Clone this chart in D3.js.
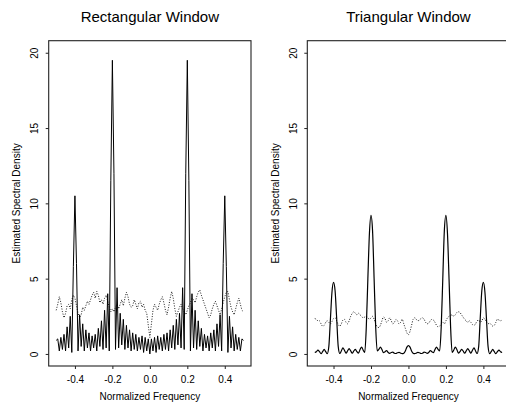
<!DOCTYPE html>
<html><head><meta charset="utf-8">
<script src="https://cdn.jsdelivr.net/npm/d3@7"></script>
<style>
body{margin:0;background:#fff}
svg{display:block}
text{font-family:"Liberation Sans",Arial,Helvetica,sans-serif;fill:#000}
</style>
</head><body>
<svg id="chart" width="506" height="403"></svg>
<script>
// Frequency grid: -0.5 .. 0.5, evenly spaced (one value per grid point)
const freqRange = [-0.5, 0.5];

// Rectangular window: periodogram (solid) and noise spectrum (dotted)
const rectSolid = [
0.9,1.0,0.2,1.1,0.3,1.3,0.2,1.8,0.4,2.5,0.1,5.8,10.5,6.0,0.2,2.6,0.5,2.0,0.2,1.6,
0.4,1.4,0.2,1.2,0.4,1.3,0.2,1.7,0.5,2.2,0.3,2.9,0.4,4.0,0.2,11.5,19.5,12.0,0.3,4.4,
0.4,2.7,0.6,2.3,0.3,1.9,0.4,1.6,0.2,1.4,0.3,1.3,0.2,1.1,0.3,1.2,0.1,1.1,0.2,1.0,
0.0,
1.0,0.2,1.1,0.1,1.2,0.3,1.1,0.2,1.3,0.3,1.4,0.2,1.6,0.4,1.9,0.3,2.3,0.6,2.7,0.4,
4.4,0.3,12.0,19.5,11.5,0.2,4.0,0.4,2.9,0.3,2.2,0.5,1.7,0.2,1.3,0.4,1.2,0.2,1.4,0.4,
1.6,0.2,2.0,0.5,2.6,0.2,6.0,10.5,5.8,0.1,2.5,0.4,1.8,0.2,1.3,0.3,1.1,0.2,1.0,0.9
];
const rectDotted = [
2.9,3.3,3.8,3.4,2.8,2.4,2.7,3.2,3.3,3.0,
3.6,3.9,3.7,3.2,2.7,2.4,2.6,3.1,2.9,3.2,
3.5,3.3,3.6,3.9,4.1,3.7,4.15,3.9,3.4,3.6,
3.3,3.7,3.9,3.5,3.1,2.8,3.0,2.8,3.1,3.3,
3.0,3.3,3.6,3.2,3.7,4.1,3.8,3.3,3.1,3.2,
3.6,3.3,3.0,3.4,3.5,3.1,3.3,2.9,2.7,1.9,
1.1,
2.0,2.9,3.3,3.1,2.9,3.3,3.6,3.8,3.4,2.9,
2.6,3.1,3.7,4.15,3.7,3.0,2.5,2.8,3.1,3.3,
3.0,2.8,2.6,2.9,3.2,3.4,3.7,3.6,3.4,3.8,
4.1,4.25,3.9,3.6,3.3,3.0,2.7,2.4,2.6,3.0,
3.3,3.5,3.2,2.9,2.6,3.0,3.4,3.8,4.1,4.15,
3.6,3.1,2.8,2.6,3.0,3.4,3.7,3.3,2.9,2.8
];

// Triangular window: periodogram (solid) and noise spectrum (dotted)
const triSolid = [
0.1,0.15,0.25,0.15,0.02,0.15,0.3,0.15,0.02,0.5,2.3,4.1,4.75,4.2,2.4,0.5,0.03,0.2,0.4,0.25,
0.05,0.2,0.35,0.2,0.05,0.2,0.3,0.15,0.05,0.3,0.45,0.25,0.1,1.8,5.0,8.0,9.2,8.2,5.0,1.8,
0.2,0.3,0.45,0.3,0.08,0.15,0.22,0.1,0.04,0.1,0.12,0.05,0.03,0.08,0.1,0.05,0.02,0.05,0.2,0.45,
0.55,
0.45,0.2,0.05,0.02,0.05,0.1,0.08,0.03,0.05,0.12,0.1,0.04,0.1,0.22,0.15,0.08,0.3,0.45,0.3,0.2,
1.8,5.0,8.2,9.2,8.0,5.0,1.8,0.1,0.25,0.45,0.3,0.05,0.15,0.3,0.2,0.05,0.2,0.35,0.2,0.05,
0.25,0.4,0.2,0.03,0.5,2.4,4.2,4.75,4.1,2.3,0.5,0.02,0.15,0.3,0.15,0.02,0.15,0.25,0.15,0.1
];
const triDotted = [
2.35,2.3,2.2,2.2,2.0,1.85,1.9,2.1,2.2,2.1,
2.0,2.15,2.35,2.4,2.2,1.95,1.85,2.0,2.25,2.3,
2.1,2.0,2.2,2.5,2.7,2.8,2.7,2.6,2.7,2.6,
2.5,2.4,2.45,2.5,2.4,2.3,2.4,2.5,2.3,2.0,
1.8,1.75,1.9,2.2,2.45,2.35,2.1,2.2,2.4,2.2,
2.0,2.1,2.3,2.2,2.0,2.1,2.3,2.0,1.7,1.4,
1.28,
1.5,1.9,2.3,2.4,2.3,2.2,2.25,2.35,2.4,2.3,
2.1,2.0,2.05,2.2,2.3,2.25,2.1,1.9,1.8,1.85,
2.0,2.1,2.0,2.2,2.4,2.5,2.55,2.6,2.5,2.6,
2.75,2.8,2.75,2.6,2.45,2.3,2.2,2.1,2.2,2.1,
1.95,1.9,2.0,2.2,2.25,2.1,2.2,2.4,2.3,2.1,
2.0,2.05,1.95,1.85,1.9,2.1,2.3,2.25,2.2,2.3
];

const xTicks = [-0.4, -0.2, 0.0, 0.2, 0.4];
const yTicks = [0, 5, 10, 15, 20];
const yLimits = [0, 20];
const panelTitles = ["Rectangular Window", "Triangular Window"];
const xLabel = "Normalized Frequency";
const yLabel = "Estimated Spectral Density";

const svg = d3.select("#chart");
const plotTop = 40.7, plotBottom = 366;

const panels = [
  {title: panelTitles[0], solid: rectSolid, dotted: rectDotted, left: 48.7, right: 251, smooth: false, sw: 1.0},
  {title: panelTitles[1], solid: triSolid, dotted: triDotted, left: 307.3, right: 509.6, smooth: true, sw: 1.2}
];

function toPoints(arr){
  const n = arr.length;
  return arr.map((v,i)=>[freqRange[0] + (freqRange[1]-freqRange[0])*i/(n-1), v]);
}

panels.forEach(p=>{
  const xpad = 0.04*(freqRange[1]-freqRange[0]);
  const ypad = 0.04*(yLimits[1]-yLimits[0]);
  const x = d3.scaleLinear().domain([freqRange[0]-xpad, freqRange[1]+xpad]).range([p.left, p.right]);
  const y = d3.scaleLinear().domain([yLimits[0]-ypad, yLimits[1]+ypad]).range([plotBottom, plotTop]);
  const g = svg.append("g");

  const line = d3.line().x(d=>x(d[0])).y(d=>y(d[1]))
    .curve(p.smooth ? d3.curveMonotoneX : d3.curveLinear);
  g.append("path").datum(toPoints(p.dotted)).attr("d", line)
    .attr("fill","none").attr("stroke","#000").attr("stroke-width",0.9)
    .attr("stroke-dasharray","1,1.6");
  g.append("path").datum(toPoints(p.solid)).attr("d", line)
    .attr("fill","none").attr("stroke","#000").attr("stroke-width",p.sw)
    .attr("stroke-linejoin","round");

  // box
  g.append("rect").attr("x", p.left).attr("y", plotTop)
    .attr("width", p.right-p.left).attr("height", plotBottom-plotTop)
    .attr("fill","none").attr("stroke","#222").attr("stroke-width",1.1);

  // x axis
  const xa = g.append("g").attr("transform",`translate(0,${plotBottom})`)
    .call(d3.axisBottom(x).tickValues(xTicks).tickSize(3).tickFormat(d3.format(".1f")));
  xa.select(".domain").remove();
  xa.selectAll("line").attr("stroke","#222");
  xa.selectAll("text").attr("y",10).attr("dy","0.71em").attr("font-size",10)
    .attr("font-family",'"Liberation Sans",Arial,sans-serif')
    .text(d=>d3.format(".1f")(d).replace("−","-"));

  // y axis
  const ya = g.append("g").attr("transform",`translate(${p.left},0)`)
    .call(d3.axisLeft(y).tickValues(yTicks).tickSize(3));
  ya.select(".domain").remove();
  ya.selectAll("line").attr("stroke","#222");
  ya.selectAll("text").attr("x",null).attr("dy",null)
    .attr("text-anchor","middle").attr("font-size",10)
    .attr("font-family",'"Liberation Sans",Arial,sans-serif')
    .attr("transform","translate(-10.4,0) rotate(-90)");

  // titles and axis labels
  const cx = (p.left+p.right)/2;
  svg.append("text").attr("x",cx).attr("y",21.5).attr("text-anchor","middle")
    .attr("font-size",15).text(p.title);
  svg.append("text").attr("x",cx).attr("y",400).attr("text-anchor","middle")
    .attr("font-size",10).text(xLabel);
  svg.append("text").attr("transform",`translate(${p.left-28.8},${(plotTop+plotBottom)/2}) rotate(-90)`)
    .attr("text-anchor","middle").attr("font-size",10).text(yLabel);
});
</script>
</body></html>
